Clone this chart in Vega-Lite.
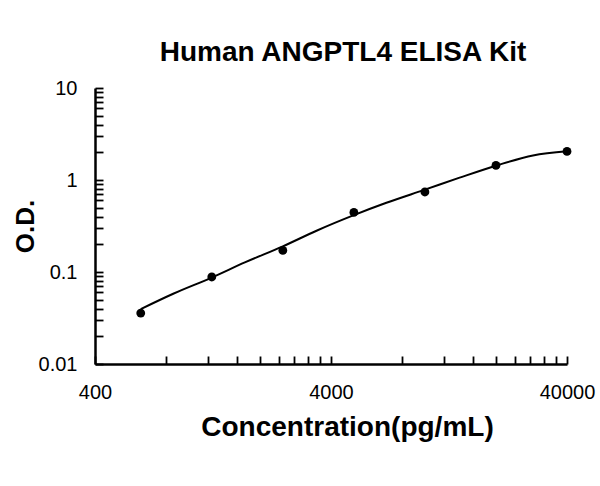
{
  "$schema": "https://vega.github.io/schema/vega-lite/v6.json",
  "width": 472,
  "height": 276,
  "autosize": "none",
  "padding": {"left": 95, "top": 88, "right": 33, "bottom": 122},
  "background": "white",
  "config": {"view": {"stroke": null}, "font": "Liberation Sans"},
  "title": {
    "text": "Human ANGPTL4 ELISA Kit",
    "font": "Liberation Sans",
    "fontSize": 28,
    "fontWeight": "bold",
    "color": "#000000",
    "anchor": "middle",
    "frame": "group",
    "baseline": "alphabetic",
    "offset": -11,
    "dx": 12
  },
  "datasets": {
    "points": [
      {"conc": 625, "od": 0.0358},
      {"conc": 1250, "od": 0.0883},
      {"conc": 2500, "od": 0.1717},
      {"conc": 5000, "od": 0.444},
      {"conc": 10000, "od": 0.741},
      {"conc": 20000, "od": 1.442},
      {"conc": 40000, "od": 2.046}
    ],
    "curve": [
      {"conc": 625, "od": 0.0395},
      {"conc": 858, "od": 0.058},
      {"conc": 1250, "od": 0.087},
      {"conc": 1726, "od": 0.127},
      {"conc": 2500, "od": 0.19},
      {"conc": 3473, "od": 0.281},
      {"conc": 5000, "od": 0.415},
      {"conc": 6867, "od": 0.565},
      {"conc": 10000, "od": 0.785},
      {"conc": 14030, "od": 1.06},
      {"conc": 20000, "od": 1.43},
      {"conc": 28700, "od": 1.85},
      {"conc": 40000, "od": 2.05}
    ]
  },
  "layer": [
    {
      "data": {"name": "curve"},
      "mark": {"type": "line", "interpolate": "monotone", "color": "#000000", "strokeWidth": 2},
      "encoding": {
        "x": {
          "field": "conc",
          "type": "quantitative",
          "scale": {"type": "log", "domain": [400, 40000], "nice": false},
          "axis": {
            "values": [400, 800, 1200, 1600, 2000, 2400, 2800, 3200, 3600, 4000, 8000, 12000, 16000, 20000, 24000, 28000, 32000, 36000, 40000],
            "format": "d",
            "labelExpr": "datum.value == 400 || datum.value == 4000 || datum.value == 40000 ? datum.label : ''",
            "grid": false,
            "domainColor": "#000000",
            "domainWidth": 2.5,
            "tickColor": "#000000",
            "tickWidth": 1.8,
            "tickSize": -8,
            "labelFont": "Liberation Sans",
            "labelFontSize": 20,
            "labelColor": "#000000",
            "labelPadding": 26,
            "labelFlush": false,
            "labelOverlap": false,
            "labelBound": false,
            "title": "Concentration(pg/mL)",
            "titleFont": "Liberation Sans",
            "titleFontSize": 28,
            "titleFontWeight": "bold",
            "titleColor": "#000000",
            "titleX": 252,
            "titlePadding": 11
          }
        },
        "y": {
          "field": "od",
          "type": "quantitative",
          "scale": {"type": "log", "domain": [0.01, 10], "nice": false},
          "axis": {
            "values": [0.01, 0.02, 0.03, 0.04, 0.05, 0.06, 0.07, 0.08, 0.09, 0.1, 0.2, 0.3, 0.4, 0.5, 0.6, 0.7, 0.8, 0.9, 1, 2, 3, 4, 5, 6, 7, 8, 9, 10],
            "labelExpr": "datum.value == 0.01 ? '0.01' : datum.value == 0.1 ? '0.1' : datum.value == 1 ? '1' : datum.value == 10 ? '10' : ''",
            "grid": false,
            "domainColor": "#000000",
            "domainWidth": 2.5,
            "tickColor": "#000000",
            "tickWidth": 1.8,
            "tickSize": -8,
            "labelFont": "Liberation Sans",
            "labelFontSize": 20,
            "labelColor": "#000000",
            "labelPadding": 26,
            "labelFlush": false,
            "labelOverlap": false,
            "labelBound": false,
            "title": "O.D.",
            "titleFont": "Liberation Sans",
            "titleFontSize": 26,
            "titleFontWeight": "bold",
            "titleColor": "#000000",
            "titlePadding": 0
          }
        }
      }
    },
    {
      "data": {"name": "points"},
      "mark": {"type": "circle", "size": 78, "color": "#000000", "opacity": 1},
      "encoding": {
        "x": {"field": "conc", "type": "quantitative"},
        "y": {"field": "od", "type": "quantitative"}
      }
    }
  ]
}
